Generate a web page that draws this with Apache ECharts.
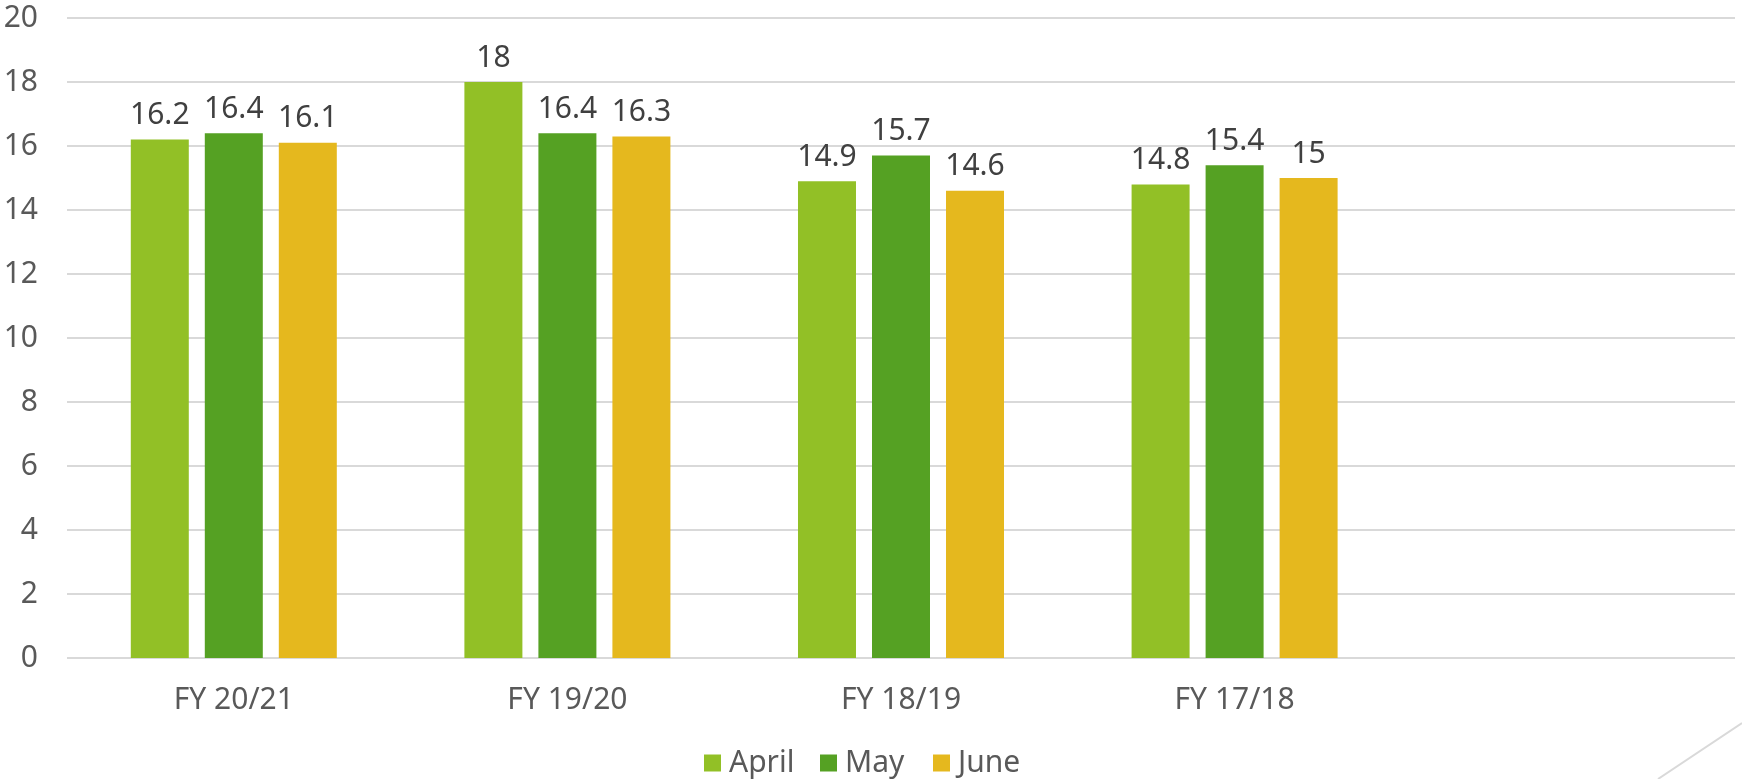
<!DOCTYPE html>
<html>
<head>
<meta charset="utf-8">
<script src="https://cdn.jsdelivr.net/npm/echarts@6/dist/echarts.min.js"></script>
<style>
html,body{margin:0;padding:0;background:#fff;}
#chart{width:1742px;height:779px;}
</style>
</head>
<body>
<div id="chart"></div>
<script>
const categories = ['FY 20/21', 'FY 19/20', 'FY 18/19', 'FY 17/18', ''];
const april = [16.2, 18, 14.9, 14.8];
const may = [16.4, 16.4, 15.7, 15.4];
const june = [16.1, 16.3, 14.6, 15];
const seriesNames = ['April', 'May', 'June'];
const colors = ['#92C026', '#55A123', '#E5B81E'];

const FONT = 'Noto Sans';
const chart = echarts.init(document.getElementById('chart'), null, {renderer: 'canvas'});

function legendFor(i, left) {
  return {
    data: [seriesNames[i]],
    left: left,
    top: 743,
    itemWidth: 17,
    itemHeight: 17,
    icon: 'rect',
    textStyle: {fontFamily: FONT, fontSize: 30, color: '#595959', padding: [0, 0, 0, 3]}
  };
}

const label = {
  show: true,
  position: 'top',
  distance: 9,
  fontFamily: FONT,
  fontSize: 30,
  color: '#404040'
};

chart.setOption({
  animation: false,
  color: colors,
  grid: {left: 67, right: 7, top: 18, bottom: 121, containLabel: false},
  legend: [legendFor(0, 699), legendFor(1, 815), legendFor(2, 928)],
  xAxis: {
    type: 'category',
    data: categories,
    axisLine: {show: false},
    axisTick: {show: false},
    axisLabel: {fontFamily: FONT, fontSize: 30, color: '#595959', margin: 27}
  },
  yAxis: {
    type: 'value',
    min: 0, max: 20, interval: 2,
    axisLine: {show: false},
    axisTick: {show: false},
    axisLabel: {fontFamily: FONT, fontSize: 30, color: '#595959', margin: 29},
    splitLine: {lineStyle: {color: '#D9D9D9', width: 2}}
  },
  series: [
    {name: seriesNames[0], type: 'bar', data: april, barWidth: 58, barGap: '27.6%', label: label},
    {name: seriesNames[1], type: 'bar', data: may, barWidth: 58, barGap: '27.6%', label: label},
    {name: seriesNames[2], type: 'bar', data: june, barWidth: 58, barGap: '27.6%', label: label}
  ],
  graphic: [{
    type: 'line',
    silent: true,
    shape: {x1: 1658, y1: 779, x2: 1742, y2: 723},
    style: {stroke: '#D9D9D9', lineWidth: 2}
  }]
});
</script>
</body>
</html>
